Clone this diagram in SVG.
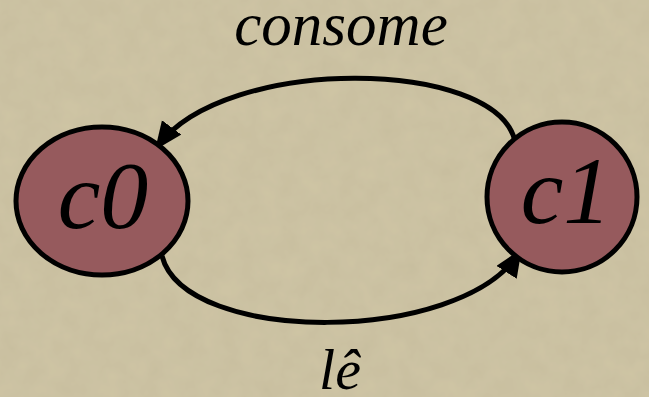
<svg xmlns="http://www.w3.org/2000/svg" width="649" height="397" viewBox="0 0 649 397">
<style>
.node{fill:#965a5d;stroke:#000;stroke-width:5}
.lbl{font-family:"Liberation Serif","Times New Roman",serif;font-style:italic;fill:#000;text-anchor:middle}
.edge{fill:none;stroke:#000;stroke-width:5}
</style>
<defs>
<filter id="tex" x="0" y="0" width="100%" height="100%">
<feTurbulence type="fractalNoise" baseFrequency="0.05" numOctaves="3" seed="3" result="n"/>
<feColorMatrix in="n" type="matrix" values="0 0 0 0 0  0 0 0 0 0  0 0 0 0 0  0 0 0 0.08 0" result="a"/>
<feComposite in="a" in2="SourceGraphic" operator="over"/>
</filter>
<marker id="arr" markerUnits="userSpaceOnUse" markerWidth="32" markerHeight="26" refX="23" refY="12" orient="auto">
<path d="M0,0 L28,12 L0,24 Z" fill="#000"/>
</marker>
</defs>
<rect x="0" y="0" width="649" height="397" fill="#cfc5a5" filter="url(#tex)"/>
<g id="edges">
<path class="edge" d="M515,141 C495,58 225,55 158,146" marker-end="url(#arr)"/>
<path class="edge" d="M162,256 C185,345 460,345 519,253" marker-end="url(#arr)"/>
<text class="lbl" x="341" y="45" font-size="61">consome</text>
<text class="lbl" x="340" y="389" font-size="58">lê</text>
</g>
<g id="c0">
<ellipse class="node" cx="102" cy="201" rx="86" ry="74"/>
<text class="lbl" x="103" y="228" font-size="96">c0</text>
</g>
<g id="c1">
<ellipse class="node" cx="562" cy="197" rx="75" ry="75"/>
<text class="lbl" x="566" y="223" font-size="96">c1</text>
</g>
</svg>
